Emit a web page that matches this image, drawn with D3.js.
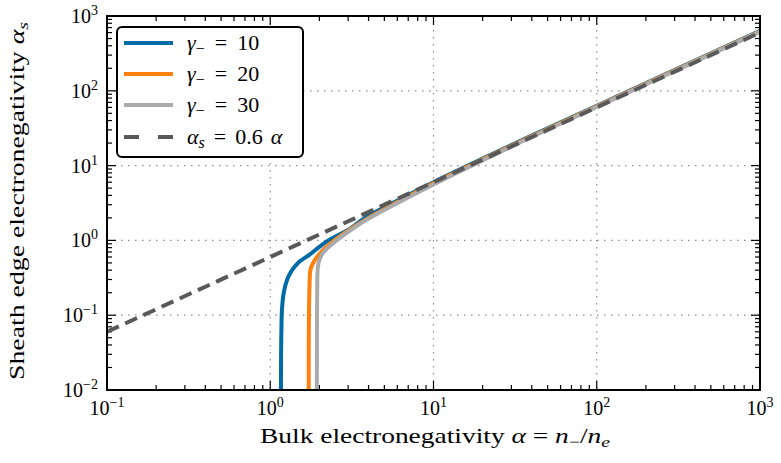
<!DOCTYPE html>
<html>
<head>
<meta charset="utf-8">
<script src="https://cdn.jsdelivr.net/npm/d3@7"></script>
<style>
  body { margin: 0; background: #fff; }
  svg text { font-family: "Liberation Serif", "DejaVu Serif", serif; fill: #000; }
</style>
</head>
<body>
<div id="chart"></div>
<script>
// values: [alpha, alpha_s]
const gamma10 = [[1.163,0.01],[1.165,0.03],[1.17,0.06],[1.18,0.12],[1.21,0.2],[1.27,0.3],[1.36,0.4],[1.48,0.5],[1.75,0.65],[2.03,0.84],[2.27,1.0],[3.1,1.45],[3.8,2.0],[5.05,2.8],[10,6.0],[30,18.8],[100,63],[1000,635]];
const gamma20 = [[1.72,0.01],[1.722,0.05],[1.727,0.12],[1.735,0.2],[1.745,0.3],[1.76,0.4],[1.83,0.5],[2.05,0.7],[2.47,1.0],[3.23,1.5],[4.0,2.0],[10,5.8],[30,18.4],[100,62],[1000,625]];
const gamma30 = [[1.93,0.01],[1.932,0.05],[1.935,0.12],[1.94,0.25],[1.945,0.35],[1.96,0.45],[2.0,0.55],[2.1,0.68],[2.55,1.0],[3.3,1.5],[4.08,2.0],[10,5.6],[30,18],[100,61],[1000,617]];
const fitLine = [[0.1,0.06],[1000,600]];

const seriesNames = ["10", "20", "30"];
const seriesColors = ["#006BA4", "#FF800E", "#ABABAB"];
const fitColor = "#595959";
const xTickExps = [-1, 0, 1, 2, 3];
const yTickExps = [-2, -1, 0, 1, 2, 3];

const W = 781, H = 463;
const margin = {top: 16, right: 21, bottom: 73, left: 107};
const width = W - margin.left - margin.right;
const height = H - margin.top - margin.bottom;

const svg = d3.select("#chart").append("svg")
  .attr("width", W).attr("height", H);
const g = svg.append("g").attr("transform", `translate(${margin.left},${margin.top})`);

const x = d3.scaleLog().domain([0.1, 1000]).range([0, width]);
const y = d3.scaleLog().domain([0.01, 1000]).range([height, 0]);

// grid
xTickExps.slice(1, -1).forEach(e => {
  g.append("line").attr("x1", x(10 ** e)).attr("x2", x(10 ** e)).attr("y1", 0).attr("y2", height)
    .attr("stroke", "#8c8c8c").attr("stroke-width", 1.2).attr("stroke-dasharray", "1.5,5.5");
});
yTickExps.slice(1, -1).forEach(e => {
  g.append("line").attr("y1", y(10 ** e)).attr("y2", y(10 ** e)).attr("x1", 0).attr("x2", width)
    .attr("stroke", "#8c8c8c").attr("stroke-width", 1.2).attr("stroke-dasharray", "1.5,5.5");
});

// ticks (inward, all four sides)
function minorVals(lo, hi) {
  const out = [];
  for (let e = lo; e < hi; e++) for (let k = 2; k <= 9; k++) out.push(k * 10 ** e);
  return out;
}
const ticks = g.append("g").attr("stroke", "#000").attr("stroke-width", 1.2);
xTickExps.forEach(e => {
  const px = x(10 ** e);
  ticks.append("line").attr("x1", px).attr("x2", px).attr("y1", height).attr("y2", height - 9);
  ticks.append("line").attr("x1", px).attr("x2", px).attr("y1", 0).attr("y2", 9);
});
minorVals(-1, 3).forEach(v => {
  const px = x(v);
  ticks.append("line").attr("x1", px).attr("x2", px).attr("y1", height).attr("y2", height - 5);
  ticks.append("line").attr("x1", px).attr("x2", px).attr("y1", 0).attr("y2", 5);
});
yTickExps.forEach(e => {
  const py = y(10 ** e);
  ticks.append("line").attr("y1", py).attr("y2", py).attr("x1", 0).attr("x2", 9);
  ticks.append("line").attr("y1", py).attr("y2", py).attr("x1", width).attr("x2", width - 9);
});
minorVals(-2, 3).forEach(v => {
  const py = y(v);
  ticks.append("line").attr("y1", py).attr("y2", py).attr("x1", 0).attr("x2", 5);
  ticks.append("line").attr("y1", py).attr("y2", py).attr("x1", width).attr("x2", width - 5);
});

// tick labels
function powLabel(sel, e) {
  sel.append("tspan").text("10");
  sel.append("tspan").attr("dy", -8).style("font-size", "14px").text(e < 0 ? "\u2212" + (-e) : e);
}
xTickExps.forEach(e => {
  const t = g.append("text").attr("x", x(10 ** e)).attr("y", height + 25)
    .attr("text-anchor", "middle").style("font-size", "20px");
  powLabel(t, e);
});
yTickExps.forEach(e => {
  const t = g.append("text").attr("x", -9).attr("y", y(10 ** e) + 7)
    .attr("text-anchor", "end").style("font-size", "20px");
  powLabel(t, e);
});

// curves
const line = d3.line().x(d => x(d[0])).y(d => y(d[1])).curve(d3.curveCatmullRom.alpha(0.5));
svg.append("clipPath").attr("id", "clip").append("rect").attr("width", width).attr("height", height);
const plot = g.append("g").attr("clip-path", "url(#clip)");
[gamma10, gamma20, gamma30].forEach((data, i) => {
  plot.append("path").datum(data).attr("d", line)
    .attr("fill", "none").attr("stroke", seriesColors[i]).attr("stroke-width", 4);
});
plot.append("path").datum(fitLine).attr("d", line)
  .attr("fill", "none").attr("stroke", fitColor).attr("stroke-width", 4).attr("stroke-dasharray", "13,7");

// frame
g.append("rect").attr("width", width).attr("height", height)
  .attr("fill", "none").attr("stroke", "#000").attr("stroke-width", 2);

// axis titles
const xt = svg.append("text").attr("x", 260).attr("y", 443)
  .attr("textLength", 350).attr("lengthAdjust", "spacingAndGlyphs").style("font-size", "21px");
xt.append("tspan").text("Bulk electronegativity ");
xt.append("tspan").style("font-style", "italic").text("\u03b1");
xt.append("tspan").text(" = ");
xt.append("tspan").style("font-style", "italic").text("n");
xt.append("tspan").attr("dy", 4).style("font-size", "15px").text("\u2212");
xt.append("tspan").attr("dy", -4).text("/");
xt.append("tspan").style("font-style", "italic").text("n");
xt.append("tspan").attr("dy", 4).style("font-size", "15px").style("font-style", "italic").text("e");

const yt = svg.append("text").attr("transform", "translate(24,380) rotate(-90)")
  .attr("textLength", 358).attr("lengthAdjust", "spacingAndGlyphs").style("font-size", "21px");
yt.append("tspan").text("Sheath edge electronegativity ");
yt.append("tspan").style("font-style", "italic").text("\u03b1");
yt.append("tspan").attr("dy", 4).style("font-size", "15px").style("font-style", "italic").text("s");

// legend
const lg = svg.append("g");
lg.append("rect").attr("x", 117).attr("y", 27).attr("width", 186).attr("height", 130)
  .attr("rx", 5).attr("fill", "#fff").attr("stroke", "#000").attr("stroke-width", 2);
const rowY = [43, 74, 105, 137];
seriesNames.forEach((n, i) => {
  lg.append("line").attr("x1", 124).attr("x2", 173).attr("y1", rowY[i]).attr("y2", rowY[i])
    .attr("stroke", seriesColors[i]).attr("stroke-width", 4);
  const t = lg.append("text").attr("x", 187).attr("y", rowY[i] + 7).style("font-size", "22px");
  t.append("tspan").style("font-style", "italic").text("\u03b3");
  t.append("tspan").attr("dy", 4).style("font-size", "16px").text("\u2212");
  t.append("tspan").attr("dy", -4).attr("dx", 10).text("=");
  t.append("tspan").attr("dx", 10).text(n);
});
lg.append("line").attr("x1", 124).attr("x2", 173).attr("y1", rowY[3]).attr("y2", rowY[3])
  .attr("stroke", fitColor).attr("stroke-width", 4).attr("stroke-dasharray", "15,19");
const ft = lg.append("text").attr("x", 187).attr("y", rowY[3] + 7).style("font-size", "22px");
ft.append("tspan").style("font-style", "italic").text("\u03b1");
ft.append("tspan").attr("dy", 4).style("font-size", "16px").style("font-style", "italic").text("s");
ft.append("tspan").attr("dy", -4).attr("dx", 9).text("=");
ft.append("tspan").attr("dx", 9).text("0.6");
ft.append("tspan").attr("dx", 8).style("font-style", "italic").text("\u03b1");
</script>
</body>
</html>
